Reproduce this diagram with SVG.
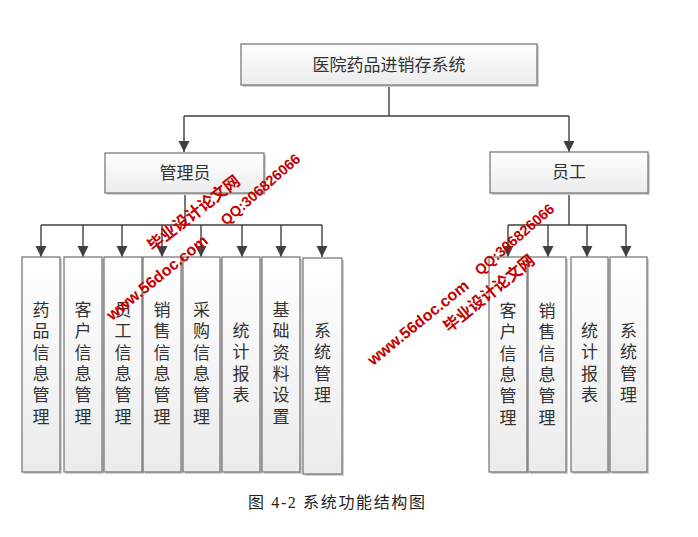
<svg xmlns="http://www.w3.org/2000/svg" width="698" height="537" viewBox="0 0 698 537">
<defs>
<linearGradient id="g" x1="0" y1="0" x2="0" y2="1">
<stop offset="0" stop-color="#ffffff"/>
<stop offset="1" stop-color="#ebebeb"/>
</linearGradient>
<marker id="ah" markerUnits="userSpaceOnUse" markerWidth="12" markerHeight="12" viewBox="0 0 12 12" refX="11" refY="6" orient="auto">
<path d="M0,0.5 L11,6 L0,11.5 Z" fill="#404040"/>
</marker>
<style>
.box{fill:url(#g);stroke:#7a7a7a;stroke-width:1.3}
.sh{fill:#cfcfcf}
.t{font-family:"Liberation Sans","Noto Sans CJK SC",sans-serif;font-size:17px;fill:#333;text-anchor:middle}
.ln{fill:none;stroke:#404040;stroke-width:1.4}
.ar{marker-end:url(#ah)}
.wm{font-family:"Liberation Sans","Noto Sans CJK SC",sans-serif;font-weight:bold;fill:#c40000}
.cap{font-family:"Liberation Serif","Noto Sans CJK SC",serif;font-size:16px;fill:#222}
</style>
</defs>
<rect width="698" height="537" fill="#ffffff"/>

<g id="connectors">
<path class="ln" d="M389,85 V116 M184,116 H569"/>
<path class="ln ar" d="M184,116 V152"/>
<path class="ln ar" d="M569,116 V152"/>
<path class="ln" d="M185,193 V225 M41,225 H322"/>
<path class="ln ar" d="M41,225 V257"/>
<path class="ln ar" d="M83,225 V257"/>
<path class="ln ar" d="M122,225 V257"/>
<path class="ln ar" d="M162,225 V257"/>
<path class="ln ar" d="M201,225 V257"/>
<path class="ln ar" d="M242,225 V257"/>
<path class="ln ar" d="M281,225 V257"/>
<path class="ln ar" d="M322,225 V257"/>
<path class="ln" d="M569,193 V225 M508,225 H626"/>
<path class="ln ar" d="M508,225 V257"/>
<path class="ln ar" d="M548,225 V257"/>
<path class="ln ar" d="M587,225 V257"/>
<path class="ln ar" d="M626,225 V257"/>
</g>

<g id="root">
<rect class="sh" x="243" y="46" width="296" height="41"/>
<rect class="box" x="241" y="44" width="296" height="41"/>
<text class="t" x="389" y="71">医院药品进销存系统</text>
</g>

<g id="admin">
<rect class="sh" x="107" y="155" width="159" height="40"/>
<rect class="box" x="105" y="153" width="159" height="40"/>
<text class="t" x="185" y="179">管理员</text>
</g>

<g id="staff">
<rect class="sh" x="492" y="154" width="158" height="41"/>
<rect class="box" x="490" y="152" width="158" height="41"/>
<text class="t" x="569" y="178">员工</text>
</g>

<g id="a1">
<rect class="sh" x="24" y="259" width="38" height="215"/>
<rect class="box" x="22" y="257" width="38" height="215"/>
<text class="t" x="41" y="316"><tspan x="41">药</tspan><tspan x="41" dy="21.3">品</tspan><tspan x="41" dy="21.3">信</tspan><tspan x="41" dy="21.3">息</tspan><tspan x="41" dy="21.3">管</tspan><tspan x="41" dy="21.3">理</tspan></text>
</g>
<g id="a2">
<rect class="sh" x="66" y="259" width="38" height="215"/>
<rect class="box" x="64" y="257" width="38" height="215"/>
<text class="t" x="83" y="316"><tspan x="83">客</tspan><tspan x="83" dy="21.3">户</tspan><tspan x="83" dy="21.3">信</tspan><tspan x="83" dy="21.3">息</tspan><tspan x="83" dy="21.3">管</tspan><tspan x="83" dy="21.3">理</tspan></text>
</g>
<g id="a3">
<rect class="sh" x="106" y="259" width="38" height="215"/>
<rect class="box" x="104" y="257" width="38" height="215"/>
<text class="t" x="123" y="316"><tspan x="123">员</tspan><tspan x="123" dy="21.3">工</tspan><tspan x="123" dy="21.3">信</tspan><tspan x="123" dy="21.3">息</tspan><tspan x="123" dy="21.3">管</tspan><tspan x="123" dy="21.3">理</tspan></text>
</g>
<g id="a4">
<rect class="sh" x="145" y="259" width="38" height="215"/>
<rect class="box" x="143" y="257" width="38" height="215"/>
<text class="t" x="162" y="316"><tspan x="162">销</tspan><tspan x="162" dy="21.3">售</tspan><tspan x="162" dy="21.3">信</tspan><tspan x="162" dy="21.3">息</tspan><tspan x="162" dy="21.3">管</tspan><tspan x="162" dy="21.3">理</tspan></text>
</g>
<g id="a5">
<rect class="sh" x="185" y="259" width="37" height="215"/>
<rect class="box" x="183" y="257" width="37" height="215"/>
<text class="t" x="201.5" y="316"><tspan x="201.5">采</tspan><tspan x="201.5" dy="21.3">购</tspan><tspan x="201.5" dy="21.3">信</tspan><tspan x="201.5" dy="21.3">息</tspan><tspan x="201.5" dy="21.3">管</tspan><tspan x="201.5" dy="21.3">理</tspan></text>
</g>
<g id="a6">
<rect class="sh" x="224" y="259" width="38" height="215"/>
<rect class="box" x="222" y="257" width="38" height="215"/>
<text class="t" x="241" y="337"><tspan x="241">统</tspan><tspan x="241" dy="21.3">计</tspan><tspan x="241" dy="21.3">报</tspan><tspan x="241" dy="21.3">表</tspan></text>
</g>
<g id="a7">
<rect class="sh" x="264" y="259" width="38" height="215"/>
<rect class="box" x="262" y="257" width="38" height="215"/>
<text class="t" x="281" y="316"><tspan x="281">基</tspan><tspan x="281" dy="21.3">础</tspan><tspan x="281" dy="21.3">资</tspan><tspan x="281" dy="21.3">料</tspan><tspan x="281" dy="21.3">设</tspan><tspan x="281" dy="21.3">置</tspan></text>
</g>
<g id="a8">
<rect class="sh" x="305" y="260" width="39" height="216"/>
<rect class="box" x="303" y="258" width="39" height="216"/>
<text class="t" x="322.5" y="337"><tspan x="322.5">系</tspan><tspan x="322.5" dy="21.3">统</tspan><tspan x="322.5" dy="21.3">管</tspan><tspan x="322.5" dy="21.3">理</tspan></text>
</g>

<g id="s1">
<rect class="sh" x="491" y="259" width="38" height="215"/>
<rect class="box" x="489" y="257" width="38" height="215"/>
<text class="t" x="508" y="317"><tspan x="508">客</tspan><tspan x="508" dy="21.3">户</tspan><tspan x="508" dy="21.3">信</tspan><tspan x="508" dy="21.3">息</tspan><tspan x="508" dy="21.3">管</tspan><tspan x="508" dy="21.3">理</tspan></text>
</g>
<g id="s2">
<rect class="sh" x="530" y="259" width="38" height="215"/>
<rect class="box" x="528" y="257" width="38" height="215"/>
<text class="t" x="547" y="317"><tspan x="547">销</tspan><tspan x="547" dy="21.3">售</tspan><tspan x="547" dy="21.3">信</tspan><tspan x="547" dy="21.3">息</tspan><tspan x="547" dy="21.3">管</tspan><tspan x="547" dy="21.3">理</tspan></text>
</g>
<g id="s3">
<rect class="sh" x="573" y="259" width="37" height="215"/>
<rect class="box" x="571" y="257" width="37" height="215"/>
<text class="t" x="589.5" y="337"><tspan x="589.5">统</tspan><tspan x="589.5" dy="21.3">计</tspan><tspan x="589.5" dy="21.3">报</tspan><tspan x="589.5" dy="21.3">表</tspan></text>
</g>
<g id="s4">
<rect class="sh" x="612" y="259" width="37" height="215"/>
<rect class="box" x="610" y="257" width="37" height="215"/>
<text class="t" x="628.5" y="337"><tspan x="628.5">系</tspan><tspan x="628.5" dy="21.3">统</tspan><tspan x="628.5" dy="21.3">管</tspan><tspan x="628.5" dy="21.3">理</tspan></text>
</g>

<g id="watermark">
<text class="wm" font-size="16" transform="translate(112,321) rotate(-39)">www.56doc.com</text>
<text class="wm" font-size="16" transform="translate(153,252) rotate(-38)">毕业设计论文网</text>
<text class="wm" font-size="14.5" transform="translate(226,226) rotate(-41)">QQ:306826066</text>
<text class="wm" font-size="16" transform="translate(373,366) rotate(-39)">www.56doc.com</text>
<text class="wm" font-size="16" transform="translate(449,333) rotate(-39)">毕业设计论文网</text>
<text class="wm" font-size="14.5" transform="translate(480,276) rotate(-41)">QQ:306826066</text>
</g>

<text class="cap" x="248" y="508" textLength="177" lengthAdjust="spacing">图 4-2 系统功能结构图</text>
</svg>
